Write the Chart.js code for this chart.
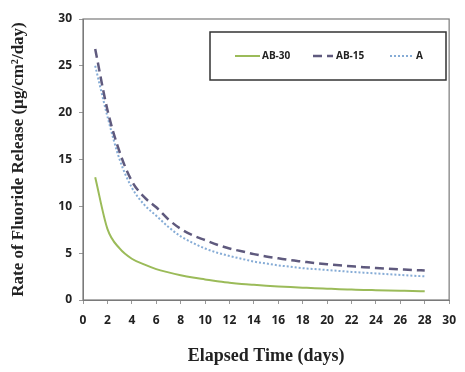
<!DOCTYPE html>
<html><head><meta charset="utf-8">
<script src="https://cdn.jsdelivr.net/npm/chart.js@4"></script>
<style>html,body{margin:0;padding:0;background:#fff}#wrap{width:465px;height:372px}</style>
</head><body><div id="wrap"><canvas id="c" width="465" height="372"></canvas></div>
<script>
const days = [1,2,3,4,5,6,7,8,9,10,11,12,13,14,15,16,17,18,19,20,21,22,23,24,25,26,27,28];
const ab30 = [13.1,7.6,5.5,4.4,3.8,3.3,2.95,2.65,2.4,2.2,2.0,1.85,1.72,1.62,1.53,1.45,1.38,1.32,1.26,1.21,1.16,1.12,1.08,1.05,1.02,0.99,0.96,0.94];
const ab15 = [26.8,20.3,15.8,12.7,11.0,9.9,8.6,7.6,6.9,6.4,5.9,5.5,5.2,4.9,4.65,4.45,4.25,4.1,3.95,3.82,3.7,3.6,3.5,3.42,3.35,3.28,3.21,3.15];
const seriesA = [25.0,19.6,15.0,12.0,10.2,9.0,7.8,6.8,6.1,5.5,5.05,4.7,4.4,4.1,3.9,3.7,3.55,3.4,3.3,3.2,3.1,3.0,2.92,2.84,2.76,2.68,2.6,2.52];
const seriesNames = ['AB-30','AB-15','A'];
const xTicks = [0,2,4,6,8,10,12,14,16,18,20,22,24,26,28,30];
const yTicks = [0,5,10,15,20,25,30];

const pts = arr => days.map((d,i)=>({x:d,y:arr[i]}));
const tickFont = {family:'"Open Sans", "Liberation Sans", sans-serif', size:12, weight:'bold'};

const frame = {
  id:'frame',
  afterDatasetsDraw(chart){
    const {ctx, chartArea:a} = chart;
    ctx.save();
    ctx.strokeStyle='#7a7a7a'; ctx.lineWidth=1.2;
    ctx.strokeRect(a.left, a.top, a.right-a.left, a.bottom-a.top);
    // legend box
    const lx=210, ly=32, lw=236, lh=48;
    ctx.fillStyle='#fff'; ctx.fillRect(lx,ly,lw,lh);
    ctx.strokeStyle='#333'; ctx.lineWidth=1.5;
    ctx.strokeRect(lx,ly,lw,lh);
    const items=[{x0:235,x1:260,tx:262},{x0:313,x1:333,tx:336},{x0:390,x1:413,tx:416}];
    const cy=56;
    chart.data.datasets.forEach((ds,i)=>{
      const it=items[i];
      ctx.beginPath();
      ctx.setLineDash(ds.borderDash||[]);
      ctx.strokeStyle=ds.borderColor; ctx.lineWidth=ds.borderWidth;
      ctx.moveTo(it.x0,cy); ctx.lineTo(it.x1,cy); ctx.stroke();
      ctx.setLineDash([]);
      ctx.fillStyle='#222';
      ctx.font='bold 10px "Open Sans", "Liberation Sans", sans-serif';
      ctx.textBaseline='middle'; ctx.textAlign='left';
      ctx.fillText(ds.label, it.tx, cy);
    });
    ctx.restore();
  }
};

new Chart(document.getElementById('c'), {
  type:'line',
  data:{datasets:[
    {label:seriesNames[0], data:pts(ab30), borderColor:'#9bbb59', borderWidth:2, pointRadius:0, cubicInterpolationMode:'monotone'},
    {label:seriesNames[1], data:pts(ab15), borderColor:'#5f5a7e', borderWidth:2.5, borderDash:[9,5], pointRadius:0, cubicInterpolationMode:'monotone'},
    {label:seriesNames[2], data:pts(seriesA), borderColor:'#86acd6', borderWidth:2, borderDash:[2,2], pointRadius:0, cubicInterpolationMode:'monotone'}
  ]},
  options:{
    responsive:false, animation:false,
    layout:{padding:{top:19,right:5,left:0,bottom:0}},
    plugins:{legend:{display:false}, tooltip:{enabled:false}},
    scales:{
      x:{type:'linear', min:0, max:30,
        afterBuildTicks:s=>{s.ticks=xTicks.map(v=>({value:v}));},
        afterFit:s=>{s.height=72;},
        grid:{drawOnChartArea:false, tickLength:4, color:'#999'},
        border:{color:'#7a7a7a'},
        ticks:{font:tickFont, color:'#222', padding:9, maxRotation:0, autoSkip:false},
        title:{display:true, text:'Elapsed Time (days)', font:{family:'"Liberation Serif", serif', size:18, weight:'bold'}, color:'#222', padding:{top:10,bottom:5}}
      },
      y:{min:0, max:30,
        afterBuildTicks:s=>{s.ticks=yTicks.map(v=>({value:v}));},
        afterFit:s=>{s.width=83;},
        grid:{drawOnChartArea:false, tickLength:4, color:'#999'},
        border:{color:'#7a7a7a'},
        ticks:{font:tickFont, color:'#222', padding:7},
        title:{display:true, text:'Rate of Fluoride Release (µg/cm²/day)', font:{family:'"Liberation Serif", serif', size:17, weight:'bold'}, color:'#222', padding:{top:8,bottom:4}}
      }
    }
  },
  plugins:[frame]
});
</script></body></html>
